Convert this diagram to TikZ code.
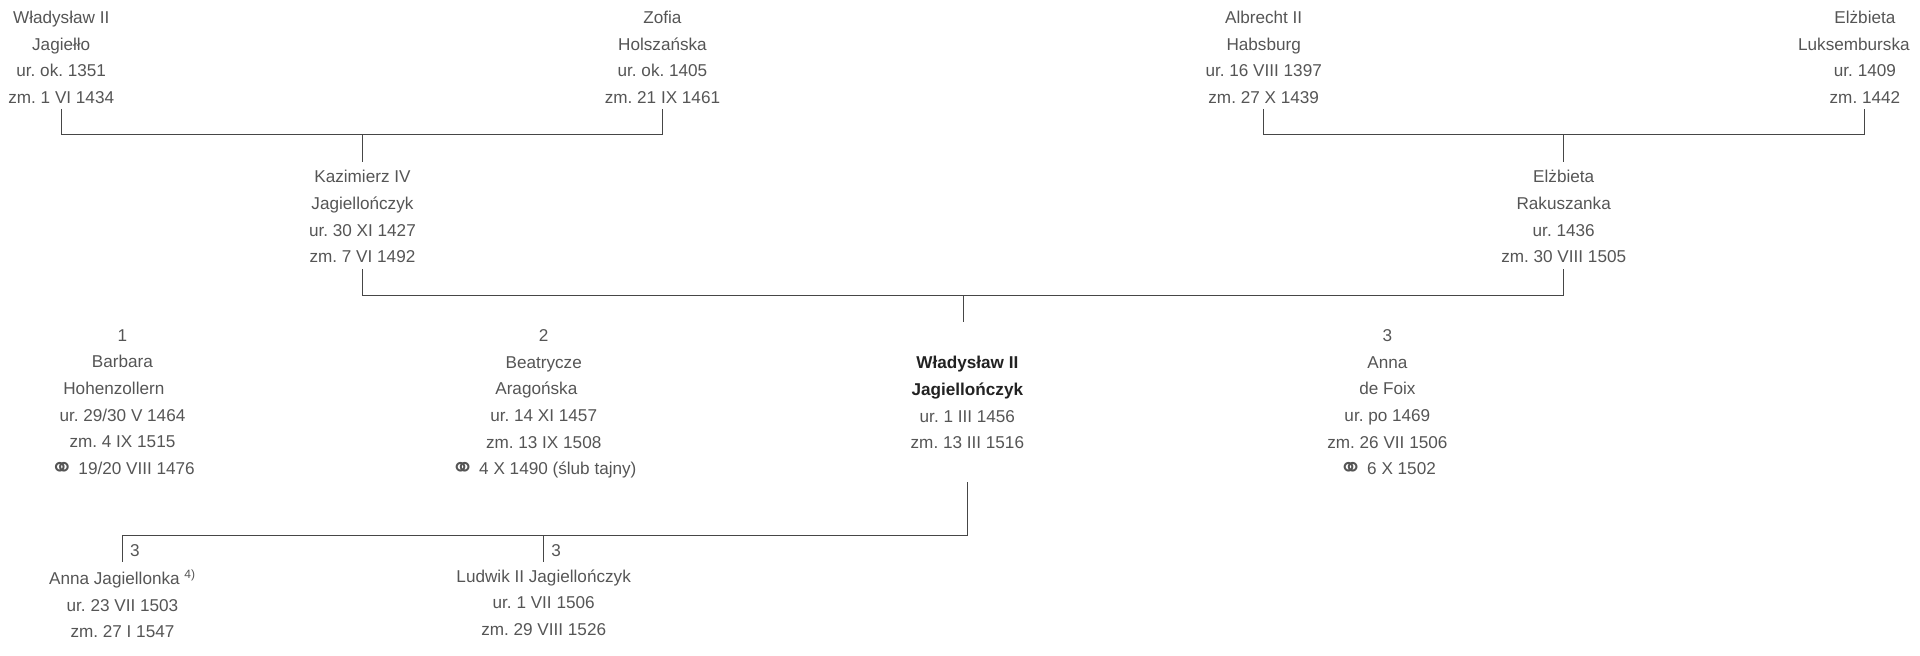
\documentclass[tikz,border=0pt]{standalone}
\usepackage{fontspec}
\setmainfont{Liberation Sans}
\newfontfamily\symfont{DejaVu Sans}
\usetikzlibrary{calc}
\definecolor{gentext}{RGB}{85,85,85}
\definecolor{genline}{RGB}{70,70,70}
\definecolor{genbold}{RGB}{34,34,34}
\newcommand{\marr}{\raisebox{-2.2pt}{\symfont\fontsize{23}{23}\selectfont\char"26AD}}
\newcommand{\padr}[1]{\hspace*{#1}\mbox{}}
\frenchspacing

\begin{document}
\begin{tikzpicture}[x=1pt,y=-1pt,
  every node/.style={font=\fontsize{14}{21.8}\selectfont,text=gentext,inner sep=0pt},
  person/.style={align=center,anchor=north},
  nr/.style={anchor=west},
  kin/.style={draw=genline,line width=0.9pt}
]
\useasboundingbox (0,0) rectangle (1568,535);

% levels of the connectors
\coordinate (lv1a) at (0,89);
\coordinate (bar1) at (0,110);
\coordinate (lv1b) at (0,132.5);
\coordinate (lv2a) at (0,220);
\coordinate (bar2) at (0,241.5);
\coordinate (lv2b) at (0,263);
\coordinate (lv3a) at (0,394);
\coordinate (bar3) at (0,437.5);
\coordinate (lv3b) at (0,459);

% grandparents
\node[person] (wj) at (50,8.8) {Władysław II\\Jagiełło\\ur. ok. 1351\\zm. 1 VI 1434};
\node[person] (zh) at (541,8.8) {Zofia\\Holszańska\\ur. ok. 1405\\zm. 21 IX 1461};
\node[person] (ah) at (1032,8.8) {Albrecht II\\Habsburg\\ur. 16 VIII 1397\\zm. 27 X 1439};
\node[person] (el) at (1523,8.8) {Elżbieta\\Luksemburska\padr{18pt}\\ur. 1409\\zm. 1442};

% parents
\node[person] (kz) at (296,138.8) {Kazimierz IV\\Jagiellończyk\\ur. 30 XI 1427\\zm. 7 VI 1492};
\node[person] (er) at (1277,138.8) {Elżbieta\\Rakuszanka\\ur. 1436\\zm. 30 VIII 1505};
\coordinate (mid2) at ($(kz.south)!0.5!(er.south)$);

% main person and wives
\node[person] (bh) at (100,268.8) {1\\Barbara\\Hohenzollern\padr{14pt}\\ur. 29/30 V 1464\\zm. 4 IX 1515\\\marr{} 19/20 VIII 1476};
\node[person] (ba) at (444,268.8) {2\\Beatrycze\\Aragońska\padr{12pt}\\ur. 14 XI 1457\\zm. 13 IX 1508\\\marr{} 4 X 1490 (ślub tajny)};
\node[person] (wn) at (790,290.8) {\textcolor{genbold}{\textbf{Władysław II}}\\\textcolor{genbold}{\textbf{Jagiellończyk}}\\ur. 1 III 1456\\zm. 13 III 1516};
\node[person] (af) at (1133,268.8) {3\\Anna\\de Foix\\ur. po 1469\\zm. 26 VII 1506\\\marr{} 6 X 1502};

% children
\node[person] (aj) at (100,464.8) {Anna Jagiellonka \textsuperscript{4)}\\ur. 23 VII 1503\\zm. 27 I 1547};
\node[person] (lj) at (444,464.8) {Ludwik II Jagiellończyk\\ur. 1 VII 1506\\zm. 29 VIII 1526};
\node[nr] (aj3) at (106,450) {3};
\node[nr] (lj3) at (450,450) {3};

\draw[kin] (wj.south |- lv1a) -- (wj.south |- bar1) -- (zh.south |- bar1) -- (zh.south |- lv1a);
\draw[kin] (kz.north |- bar1) -- (kz.north |- lv1b);
\draw[kin] (ah.south |- lv1a) -- (ah.south |- bar1) -- (el.south |- bar1) -- (el.south |- lv1a);
\draw[kin] (er.north |- bar1) -- (er.north |- lv1b);

\draw[kin] (kz.south |- lv2a) -- (kz.south |- bar2) -- (er.south |- bar2) -- (er.south |- lv2a);
\draw[kin] (mid2 |- bar2) -- (mid2 |- lv2b);

\draw[kin] (wn.south |- lv3a) -- (wn.south |- bar3) -- (aj.north |- bar3) -- (aj.north |- lv3b);
\draw[kin] (lj.north |- bar3) -- (lj.north |- lv3b);
\end{tikzpicture}
\end{document}
